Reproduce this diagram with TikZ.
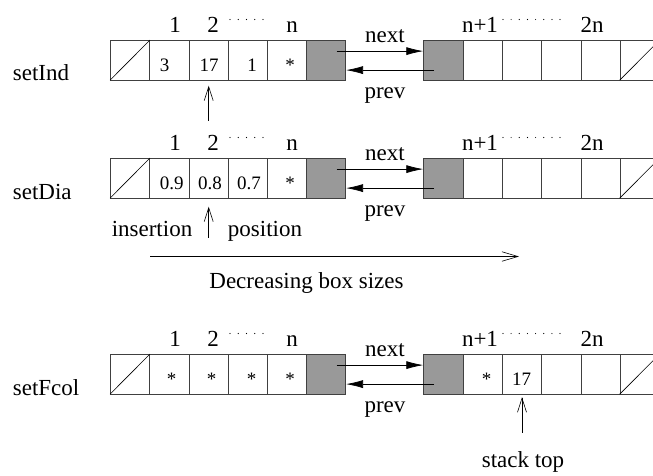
\documentclass[tikz,border=0pt]{standalone}
\usepackage{fontspec}
\setmainfont{Liberation Serif}
\usetikzlibrary{arrows.meta}

% one linked pair of blocks: #1 = name prefix, #2 = top edge
\newcommand\linkedrow[2]{%
  \foreach \i/\x in {0/110,1/149.3,2/188.7,3/228,4/267}
    {\node[cell] (#1a\i) at (\x,#2) {};}
  \node[ptrcell] (#1a5) at (306,#2) {};
  \node[ptrcell] (#1b0) at (423.3,#2) {};
  \foreach \i/\x in {1/462.7,2/502,3/541.3,4/580.7,5/619.7}
    {\node[cell] (#1b\i) at (\x,#2) {};}
  \draw[nilline] (#1a0.south west) -- (#1a0.north east);
  \draw[nilline] (#1b5.south west) -- (#1b5.north east);
  % links between the two blocks
  \draw[link] ([xshift=-9.3pt,yshift=9pt]#1a5.east) -- ([yshift=9pt]#1b0.west);
  \draw[link] ([xshift=10.7pt,yshift=-10pt]#1b0.west) -- ([yshift=-10pt]#1a5.east);
  \node[lbl] (#1next) at (385,#2+2) {next};
  \node[lbl] (#1prev) at (385,#2+58.5) {prev};
  % index labels above the cells
  \node[lbl] (#1i1) at (175,#2-8) {1};
  \node[lbl] (#1i2) at (213,#2-8) {2};
  \node[lbl] (#1in) at (292,#2-8) {n};
  \node[lbl] (#1j1) at (480,#2-8) {n+1};
  \node[lbl] (#1j2) at (592,#2-8) {2n};
  \foreach \x in {230,238.25,246.5,254.75,263}
    {\fill (\x,#2-20.5) circle (0.6);}
  \foreach \x in {503,511.1,519.3,527.4,535.6,543.7,551.9,560}
    {\fill (\x,#2-20.5) circle (0.6);}
}

\begin{document}
\begin{tikzpicture}[x=1pt,y=-1pt,
  cell/.style={draw=black!75, line width=0.7pt, minimum width=39.3pt,
    minimum height=39.5pt, inner sep=0pt, anchor=north west},
  ptrcell/.style={cell, fill=black!40},
  nilline/.style={line width=0.6pt},
  lbl/.style={font=\fontsize{23}{25}\selectfont, anchor=base, inner sep=0pt},
  val/.style={font=\fontsize{19}{21}\selectfont, anchor=base, inner sep=0pt},
  link/.style={line width=0.7pt, -{Latex[length=17pt,width=8pt]}},
  pointer/.style={line width=0.6pt, -{Straight Barb[length=14pt,width=9pt]}},
]
\useasboundingbox (0,0) rectangle (653,475);

% setInd
\linkedrow{r1}{40}
\node[lbl, anchor=base west] (setind) at (12.7,80) {setInd};
\node[val] (v11) at (164.5,71) {3};
\node[val] (v12) at (209,71) {17};
\node[val] (v13) at (252,71) {1};
\node[val] (v14) at (290,71) {*};
\draw[pointer] ([yshift=-40.5pt]r1a2.south) -- ([yshift=-5.5pt]r1a2.south);

% setDia
\linkedrow{r2}{158}
\node[lbl, anchor=base west] (setdia) at (12.7,199) {setDia};
\node[val] (v21) at (171.7,189) {0.9};
\node[val] (v22) at (210,189) {0.8};
\node[val] (v23) at (249,189) {0.7};
\node[val] (v24) at (290,189) {*};
\draw[pointer] ([yshift=-39.5pt]r2a2.south) -- ([yshift=-8.5pt]r2a2.south);
\node[lbl] (ins) at (152,236) {insertion};
\node[lbl] (pos) at (265,236) {position};

% direction of decreasing box sizes
\coordinate (ds) at (150,256.5);
\coordinate (de) at (519,256.5);
\draw[line width=0.6pt, -{Straight Barb[length=16pt,width=9.5pt]}] (ds) -- (de);
\node[lbl] (dec) at (306.5,288) {Decreasing box sizes};

% setFcol
\linkedrow{r3}{354}
\node[lbl, anchor=base west] (setfcol) at (12.7,395) {setFcol};
\node[val] (v31) at (171.7,385) {*};
\node[val] (v32) at (211.7,385) {*};
\node[val] (v33) at (251.7,385) {*};
\node[val] (v34) at (290,385) {*};
\node[val] (v35) at (486.7,385) {*};
\node[val] (v36) at (521.7,385) {17};
\draw[pointer] ([yshift=-38.5pt]r3b2.south) -- ([yshift=-3pt]r3b2.south);
\node[lbl] (stk) at (523,467) {stack top};
\end{tikzpicture}
\end{document}
